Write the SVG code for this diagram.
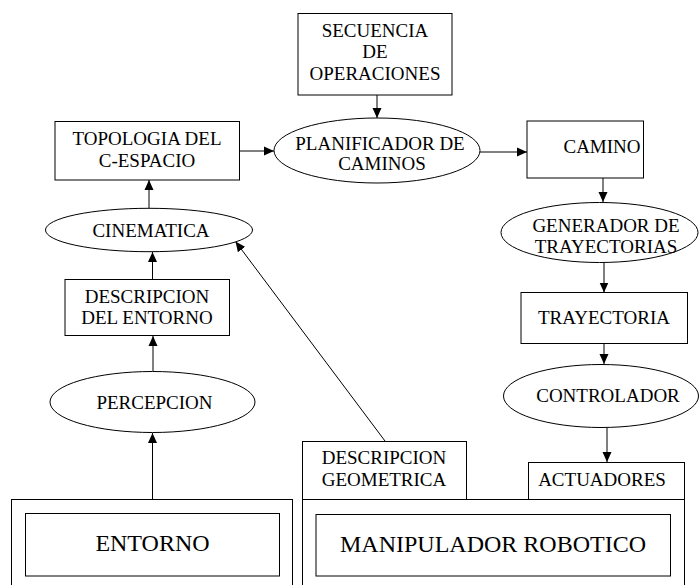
<svg xmlns="http://www.w3.org/2000/svg" width="699" height="585" viewBox="0 0 699 585">
<style>
.s{fill:#fff;stroke:#000;stroke-width:1}
text{font-family:'Liberation Serif','DejaVu Serif',serif;font-size:19px;fill:#000;text-anchor:middle}
.b{font-size:24px}
.c{fill:none;stroke:#000;stroke-width:1}
</style>
<defs>
<marker id="ah" viewBox="0 0 10 10" markerWidth="10" markerHeight="10" markerUnits="userSpaceOnUse" refX="10" refY="5" orient="auto">
<path d="M0,0.5 L10,5 L0,9.5 Z" fill="#000"/>
</marker>
</defs>
<rect width="699" height="585" fill="#fff"/>
<g id="connectors">
<line class="c" x1="377" y1="95" x2="377" y2="118" marker-end="url(#ah)"/>
<line class="c" x1="239.5" y1="151" x2="274" y2="151" marker-end="url(#ah)"/>
<line class="c" x1="480" y1="152" x2="527" y2="152" marker-end="url(#ah)"/>
<line class="c" x1="603" y1="178" x2="603" y2="202" marker-end="url(#ah)"/>
<line class="c" x1="604" y1="263" x2="604" y2="292.5" marker-end="url(#ah)"/>
<line class="c" x1="604" y1="343.5" x2="604" y2="364" marker-end="url(#ah)"/>
<line class="c" x1="607" y1="428" x2="607" y2="462" marker-end="url(#ah)"/>
<line class="c" x1="149" y1="208" x2="149" y2="180" marker-end="url(#ah)"/>
<line class="c" x1="152.5" y1="279" x2="152.5" y2="252" marker-end="url(#ah)"/>
<line class="c" x1="153" y1="371.5" x2="153" y2="336" marker-end="url(#ah)"/>
<line class="c" x1="152.5" y1="499.5" x2="152.5" y2="433" marker-end="url(#ah)"/>
<line class="c" x1="385" y1="441" x2="235.5" y2="241.5" marker-end="url(#ah)"/>
</g>
<g id="secuencia">
<rect class="s" x="298" y="13.5" width="154" height="81.5"/>
<text x="375" y="36.5">SECUENCIA</text>
<text x="375" y="58">DE</text>
<text x="375" y="80">OPERACIONES</text>
</g>
<g id="topologia">
<rect class="s" x="55" y="121.5" width="184.5" height="58.5"/>
<text x="147" y="145">TOPOLOGIA DEL</text>
<text x="147" y="166.5">C-ESPACIO</text>
</g>
<g id="planificador">
<ellipse class="s" cx="377" cy="150.5" rx="103" ry="32.5"/>
<text x="380" y="150">PLANIFICADOR DE</text>
<text x="382" y="170">CAMINOS</text>
</g>
<g id="camino">
<rect class="s" x="527" y="121" width="116.5" height="57"/>
<text x="602" y="153">CAMINO</text>
</g>
<g id="generador">
<ellipse class="s" cx="599.5" cy="232.5" rx="98.5" ry="30"/>
<text x="606" y="231.5">GENERADOR DE</text>
<text x="606" y="252.5">TRAYECTORIAS</text>
</g>
<g id="trayectoria">
<rect class="s" x="521" y="292.5" width="166.5" height="51"/>
<text x="604" y="323.5">TRAYECTORIA</text>
</g>
<g id="controlador">
<ellipse class="s" cx="601" cy="396" rx="97.5" ry="31.5"/>
<text x="608" y="401.5">CONTROLADOR</text>
</g>
<g id="cinematica">
<ellipse class="s" cx="149" cy="230" rx="103.5" ry="21.7"/>
<text x="151" y="236.5">CINEMATICA</text>
</g>
<g id="descripcion-entorno">
<rect class="s" x="65" y="279.5" width="164.5" height="56"/>
<text x="147" y="302.5">DESCRIPCION</text>
<text x="147" y="324">DEL ENTORNO</text>
</g>
<g id="percepcion">
<ellipse class="s" cx="152.5" cy="402" rx="102.5" ry="30.5"/>
<text x="154.5" y="409">PERCEPCION</text>
</g>
<g id="entorno">
<rect class="s" x="11.5" y="499.5" width="281" height="100"/>
<rect class="s" x="25.5" y="513.5" width="254" height="62.5"/>
<text class="b" x="152.5" y="550.5">ENTORNO</text>
</g>
<g id="manipulador">
<rect class="s" x="302.5" y="441.5" width="164" height="58"/>
<text x="384" y="463.5">DESCRIPCION</text>
<text x="384" y="486">GEOMETRICA</text>
<rect class="s" x="528.5" y="462.5" width="156" height="37"/>
<text x="602" y="486">ACTUADORES</text>
<rect class="s" x="302.5" y="499.5" width="382" height="100"/>
<rect class="s" x="316" y="514.5" width="354.5" height="61.5"/>
<text class="b" x="493" y="551.5">MANIPULADOR ROBOTICO</text>
</g>
</svg>
